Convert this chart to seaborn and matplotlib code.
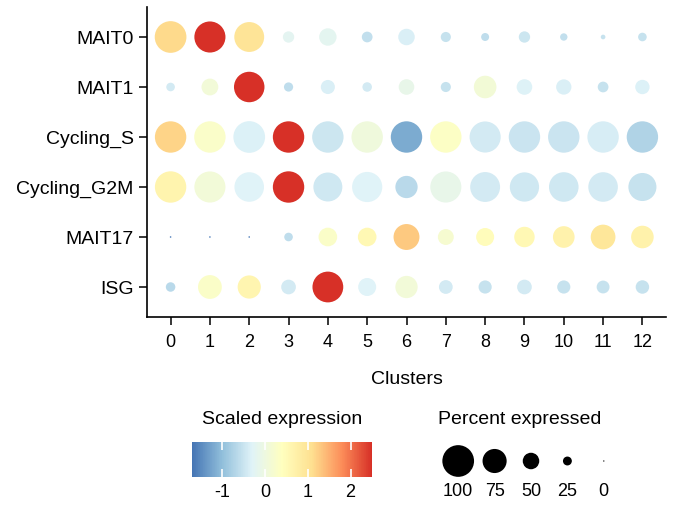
import numpy as np
import pandas as pd
import matplotlib
matplotlib.use("Agg")
import matplotlib.pyplot as plt
import matplotlib.colors as mcolors
import matplotlib.cm as cm
import seaborn as sns

# -------------------------
# data
# -------------------------
clusters = list(range(13))
cell_types = ['MAIT0', 'MAIT1', 'Cycling_S', 'Cycling_G2M', 'MAIT17', 'ISG']

# scaled expression (rows = cell_types, cols = clusters)
expr_mait0 = [1.15, 2.5, 1.0, -0.21, -0.2, -0.56, -0.35, -0.52, -0.6, -0.47, -0.56, -0.52, -0.53]
expr_mait1 = [-0.42, 0.1, 2.5, -0.6, -0.35, -0.42, -0.12, -0.52, 0.12, -0.32, -0.35, -0.52, -0.33]
expr_cyc_s = [1.2, 0.28, -0.33, 2.5, -0.47, 0.05, -1.18, 0.33, -0.42, -0.5, -0.5, -0.38, -0.73]
expr_cyc_g2m = [0.65, 0.1, -0.3, 2.5, -0.44, -0.3, -0.64, -0.12, -0.41, -0.44, -0.44, -0.41, -0.52]
expr_mait17 = [-1.6, -1.6, -1.6, -0.6, 0.3, 0.55, 1.3, 0.2, 0.45, 0.55, 0.68, 0.95, 0.7]
expr_isg = [-0.64, 0.3, 0.62, -0.42, 2.5, -0.3, 0.1, -0.42, -0.52, -0.42, -0.52, -0.52, -0.52]

# percent expressed
pct_mait0 = [100, 98, 94, 33, 53, 31, 50, 29, 22, 33, 20, 11, 24]
pct_mait1 = [24, 51, 96, 26, 42, 27, 47, 29, 70, 47, 46, 31, 43]
pct_cyc_s = [99, 99, 100, 99, 99, 99, 99, 99, 98, 99, 99, 99, 99]
pct_cyc_g2m = [99, 98, 93, 99, 91, 95, 69, 98, 94, 92, 93, 93, 88]
pct_mait17 = [1, 1, 1, 24, 57, 57, 81, 48, 55, 63, 67, 77, 70]
pct_isg = [27, 74, 72, 44, 97, 55, 69, 41, 39, 44, 39, 38, 40]

cbar_ticks = [-1, 0, 1, 2]
legend_pcts = [100, 75, 50, 25, 0]

expr_rows = [expr_mait0, expr_mait1, expr_cyc_s, expr_cyc_g2m, expr_mait17, expr_isg]
pct_rows = [pct_mait0, pct_mait1, pct_cyc_s, pct_cyc_g2m, pct_mait17, pct_isg]

rows = []
for ct, ex, pc in zip(cell_types, expr_rows, pct_rows):
    for cl, e, p in zip(clusters, ex, pc):
        rows.append({'Cluster': cl, 'Type': ct, 'Expr': e, 'Pct': p})
df = pd.DataFrame(rows)

# -------------------------
# style
# -------------------------
sns.set_style("ticks")
plt.rcParams['font.family'] = ['Liberation Sans', 'DejaVu Sans']
for key in ['text.color', 'axes.labelcolor', 'xtick.color', 'ytick.color']:
    plt.rcParams[key] = 'black'

cmap = mcolors.LinearSegmentedColormap.from_list(
    'rdylbu7', ['#4575b4', '#91bfdb', '#e0f3f8', '#ffffbf', '#fee090', '#fc8d59', '#d73027'])
norm = mcolors.Normalize(vmin=-1.7, vmax=2.5)


def pct_to_s(p):
    # diameter linear in percent (radius scaling), px -> pt at dpi 100
    d_px = 1.3 + p / 100 * 30.4
    return (d_px * 0.72) ** 2


size_map = {p: pct_to_s(p) for p in df['Pct'].unique()}

# -------------------------
# plot
# -------------------------
fig = plt.figure(figsize=(6.77, 5.09), dpi=100)
ax = fig.add_axes([147 / 677, 1 - 317 / 509, (666 - 147) / 677, (317 - 7) / 509])

sns.scatterplot(data=df, x='Cluster', y='Type', hue='Expr', size='Pct',
                palette=cmap, hue_norm=norm, sizes=size_map,
                linewidth=0, legend=False, ax=ax)

ax.set_xlim(-0.6, 12.6)
ax.set_ylim(5.6, -0.6)
ax.set_xticks(clusters)
ax.set_xticklabels([str(c) for c in clusters], fontsize=13)
ax.tick_params(axis='y', labelsize=14, length=5.5, width=1.1, pad=4)
ax.tick_params(axis='x', length=5.5, width=1.1, pad=7)
ax.set_ylabel('')
ax.set_xlabel('Clusters', fontsize=14, labelpad=14)
for side in ['top', 'right']:
    ax.spines[side].set_visible(False)
for side in ['left', 'bottom']:
    ax.spines[side].set_linewidth(1.2)
    ax.spines[side].set_color('black')

# colour legend
cax = fig.add_axes([192 / 677, 1 - 477 / 509, (372 - 192) / 677, 35 / 509])
cb = fig.colorbar(cm.ScalarMappable(norm=norm, cmap=cmap), cax=cax, orientation='horizontal')
cb.outline.set_visible(False)
cb.set_ticks(cbar_ticks)
cb.set_ticklabels([str(t) for t in cbar_ticks])
cax.set_axisbelow(False)
cax.tick_params(direction='in', length=5.5, width=1.2, color='white',
                top=True, bottom=True, labelsize=13, pad=5)
fig.text(282 / 677, 1 - 420 / 509, 'Scaled expression', fontsize=14, ha='center', va='center')

# size legend
sax = fig.add_axes([440 / 677, 1 - 481 / 509, 182 / 677, 40 / 509])
sax.scatter(range(len(legend_pcts)), [0] * len(legend_pcts),
            s=[pct_to_s(p) for p in legend_pcts], color='black', linewidth=0)
sax.set_xlim(-0.5, len(legend_pcts) - 0.5)
sax.set_ylim(-1, 1)
for i, p in enumerate(legend_pcts):
    sax.text(i, -1.5, str(p), fontsize=13, ha='center', va='center', clip_on=False)
sax.axis('off')
fig.text(520 / 677, 1 - 420 / 509, 'Percent expressed', fontsize=14, ha='center', va='center')

fig.savefig('out.png', dpi=100)
